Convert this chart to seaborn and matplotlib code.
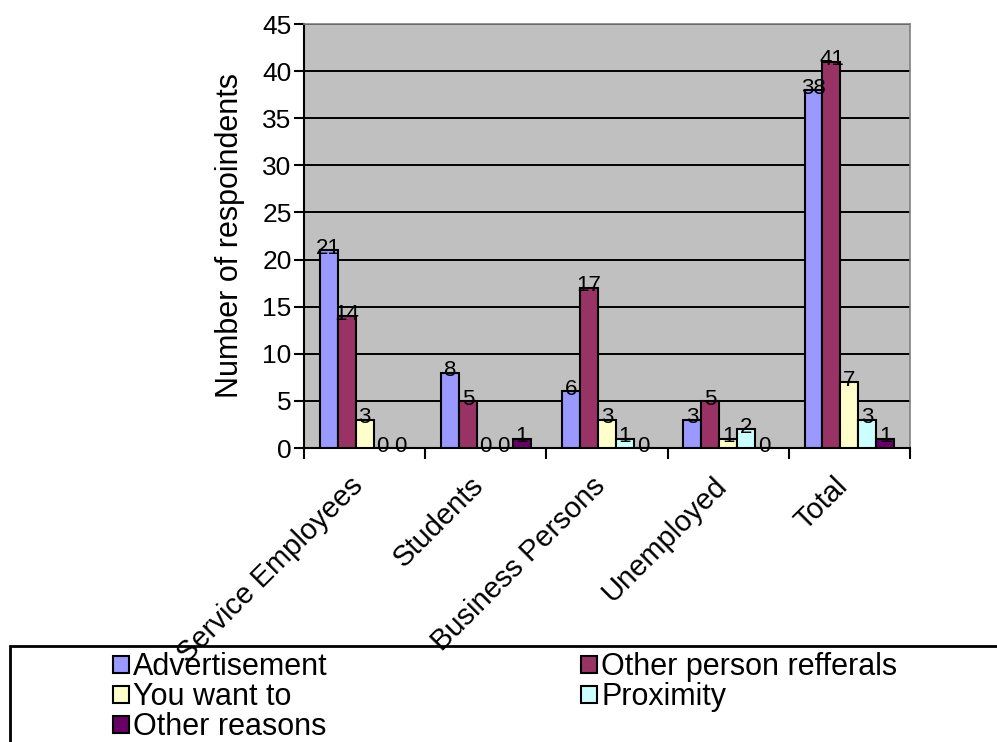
import matplotlib
matplotlib.use("Agg")
import matplotlib.pyplot as plt
import matplotlib.patches as mpatches
import matplotlib.transforms as mtransforms
import seaborn as sns
import pandas as pd

categories = ["Service Employees", "Students", "Business Persons", "Unemployed", "Total"]
series_names = ["Advertisement", "Other person refferals", "You want to", "Proximity", "Other reasons"]
advertisement = [21, 8, 6, 3, 38]
other_person = [14, 5, 17, 5, 41]
you_want_to = [3, 0, 3, 1, 7]
proximity = [0, 0, 1, 2, 3]
other_reasons = [0, 1, 0, 0, 1]
colors = ["#9999FF", "#993366", "#FFFFCC", "#CCFFFF", "#660066"]
y_ticks = [0, 5, 10, 15, 20, 25, 30, 35, 40, 45]

values = [advertisement, other_person, you_want_to, proximity, other_reasons]
rows = []
for name, vals in zip(series_names, values):
    for cat, v in zip(categories, vals):
        rows.append({"Category": cat, "Reason": name, "Count": v})
df = pd.DataFrame(rows)

sns.set_style("white")
plt.rcParams["font.family"] = ["Liberation Sans", "DejaVu Sans"]
plt.rcParams["text.color"] = "black"
plt.rcParams["axes.labelcolor"] = "black"
plt.rcParams["xtick.color"] = "black"
plt.rcParams["ytick.color"] = "black"

fig = plt.figure(figsize=(9.97, 7.42), dpi=100)
ax = fig.add_axes([304/997, 1-448/742, (910-304)/997, (448-24)/742])
ax.set_facecolor("#C0C0C0")

sns.barplot(data=df, x="Category", y="Count", hue="Reason", order=categories,
            hue_order=series_names, palette=colors, width=0.74, gap=0,
            edgecolor="black", linewidth=1.5, saturation=1, ax=ax, legend=False,
            zorder=3, errorbar=None)

ax.set_ylim(0, 45)
ax.set_xlim(-0.5, len(categories) - 0.5)
ax.set_yticks(y_ticks)
ax.yaxis.grid(True, color="black", linewidth=1.4, zorder=1)
ax.set_axisbelow(True)
for spine in ["left", "bottom"]:
    ax.spines[spine].set_color("black")
    ax.spines[spine].set_linewidth(1.5)
for spine in ["top", "right"]:
    ax.spines[spine].set_color("#808080")
    ax.spines[spine].set_linewidth(1.2)

ax.tick_params(axis="y", direction="out", length=7, width=1.5, colors="black",
               labelsize=19, pad=2, left=True)
ax.set_xticks(range(len(categories)))
ax.set_xticklabels(categories, rotation=45, ha="right", rotation_mode="anchor",
                   fontsize=21, color="black")
ax.tick_params(axis="x", which="major", length=0, pad=17)
ax.set_xticks([i - 0.5 for i in range(len(categories) + 1)], minor=True)
ax.tick_params(axis="x", which="minor", direction="out", length=8, width=1.5,
               bottom=True)
shift = mtransforms.ScaledTranslation(-16/100, 0, fig.dpi_scale_trans)
for lab in ax.get_xticklabels():
    lab.set_transform(lab.get_transform() + shift)
ax.set_xlabel("")
ax.set_ylabel("Number of respoindents", fontsize=22, labelpad=12, color="black")

for container, vals in zip(ax.containers, values):
    for bar, v in zip(container, vals):
        ax.text(bar.get_x() + bar.get_width() / 2, bar.get_height() + 0.2, str(v),
                ha="center", va="center", fontsize=16, color="black", zorder=5,
                clip_on=False)

# legend frame extending off figure
rect = mpatches.Rectangle((10/997, -0.1), 1.2, 0.1 + (1 - 646/742),
                          transform=fig.transFigure, fill=False,
                          edgecolor="black", linewidth=2, clip_on=False)
fig.patches.append(rect)

order = [0, 2, 4, 1, 3]
handles = [mpatches.Patch(facecolor=colors[i], edgecolor="black", linewidth=1.5)
           for i in order]
labels = [series_names[i] for i in order]
fig.legend(handles, labels, loc="upper left",
           bbox_to_anchor=(98/997, 1 - 637/742), ncol=2, frameon=False,
           fontsize=22, handlelength=0.5, handleheight=0.5, handletextpad=0.15,
           labelspacing=0.0, columnspacing=8.3, borderpad=0,
           labelcolor="black")

fig.savefig("out.png", dpi=100)
